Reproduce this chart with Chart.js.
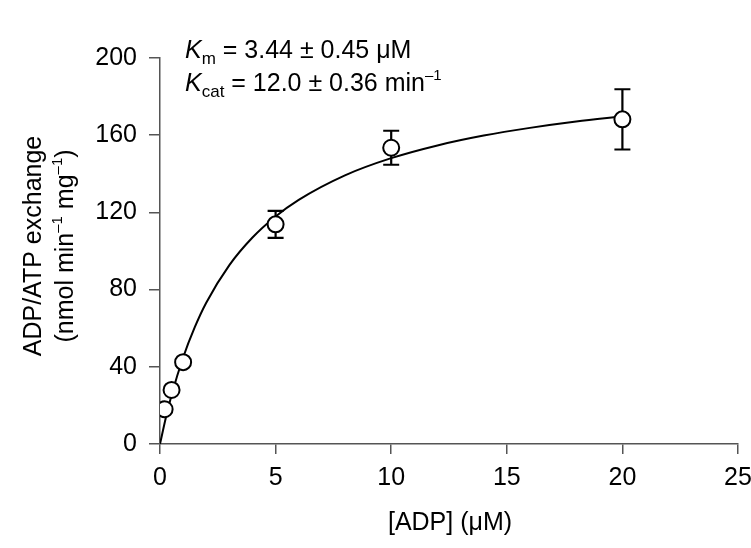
<!DOCTYPE html>
<html>
<head>
<meta charset="utf-8">
<script src="https://cdn.jsdelivr.net/npm/chart.js@4.4.1/dist/chart.umd.min.js"></script>
<style>
  html, body { margin: 0; padding: 0; background: #fff; }
  #wrap { width: 751px; height: 548px; position: relative; }
</style>
</head>
<body>
<div id="wrap"><canvas id="c" width="751" height="548"></canvas></div>
<script>
const adpConc = [0.2, 0.5, 1, 5, 10, 20];
const exchangeRate = [18, 28, 42.4, 113.8, 153.5, 168.2];
const errorSEM = [0, 0, 0, 7, 8.8, 15.6];

const fitX = [0, 0.25, 0.5, 1, 1.5, 2, 3, 4, 5, 6, 8, 10, 12, 14, 16, 18, 20];
const fitY = [0, 13.5, 25.3, 44.8, 60.4, 73.2, 92.7, 107.0, 117.9, 126.5, 139.2, 148.1, 154.7, 159.8, 163.8, 167.1, 169.8];

// Axis ticks
const xTicks = [0, 5, 10, 15, 20, 25];
const yTicks = [0, 40, 80, 120, 160, 200];

const FONT = "'Liberation Sans', Arial, Helvetica, sans-serif";
const AXIS_COLOR = '#555';
const FS = 25;

function drawRich(ctx, segs, x, y, align) {
  let total = 0;
  segs.forEach(s => {
    ctx.font = (s.italic ? 'italic ' : '') + s.size + 'px ' + FONT;
    s.w = ctx.measureText(s.t).width;
    total += s.w;
  });
  let cx = align === 'center' ? x - total / 2 : x;
  segs.forEach(s => {
    ctx.font = (s.italic ? 'italic ' : '') + s.size + 'px ' + FONT;
    ctx.fillText(s.t, cx, y + (s.dy || 0));
    cx += s.w;
  });
}

const textPlugin = {
  id: 'texts',
  afterDraw(chart) {
    const ctx = chart.ctx;
    ctx.save();
    ctx.fillStyle = '#000';
    ctx.textBaseline = 'alphabetic';
    ctx.textAlign = 'left';
    // Annotation
    drawRich(ctx, [
      {t: 'K', size: FS, italic: true},
      {t: 'm', size: 17, dy: 6},
      {t: ' = 3.44 \u00B1 0.45 \u03BCM', size: FS}
    ], 185, 58, 'left');
    drawRich(ctx, [
      {t: 'K', size: FS, italic: true},
      {t: 'cat', size: 17, dy: 6},
      {t: ' = 12.0 \u00B1 0.36 min', size: FS},
      {t: '\u20131', size: 15, dy: -11}
    ], 185, 91, 'left');
    // Y axis title (rotated)
    ctx.save();
    ctx.translate(41, 246);
    ctx.rotate(-Math.PI / 2);
    drawRich(ctx, [{t: 'ADP/ATP exchange', size: FS}], 0, 0, 'center');
    drawRich(ctx, [
      {t: '(nmol min', size: FS},
      {t: '\u20131', size: 15, dy: -11},
      {t: ' mg', size: FS},
      {t: '\u20131', size: 15, dy: -11},
      {t: ')', size: FS}
    ], 0, 32, 'center');
    ctx.restore();
    // X axis title
    drawRich(ctx, [{t: '[ADP] (\u03BCM)', size: FS}], 450, 530, 'center');
    ctx.restore();
  }
};

const errorBarPlugin = {
  id: 'errorBars',
  beforeDatasetDraw(chart, args) {
    if (args.index !== 0) return;
    const ctx = chart.ctx;
    const xs = chart.scales.x, ys = chart.scales.y;
    ctx.save();
    ctx.strokeStyle = '#000';
    ctx.lineWidth = 2.2;
    for (let i = 0; i < adpConc.length; i++) {
      if (!errorSEM[i]) continue;
      const px = xs.getPixelForValue(adpConc[i]);
      const top = ys.getPixelForValue(exchangeRate[i] + errorSEM[i]);
      const bot = ys.getPixelForValue(exchangeRate[i] - errorSEM[i]);
      ctx.beginPath();
      ctx.moveTo(px, top); ctx.lineTo(px, bot);
      ctx.moveTo(px - 8, top); ctx.lineTo(px + 8, top);
      ctx.moveTo(px - 8, bot); ctx.lineTo(px + 8, bot);
      ctx.stroke();
    }
    ctx.restore();
  }
};

new Chart(document.getElementById('c'), {
  type: 'scatter',
  data: {
    datasets: [
      {
        label: 'Measured',
        data: adpConc.map((x, i) => ({x, y: exchangeRate[i]})),
        pointRadius: 8,
        pointBorderWidth: 2,
        pointBackgroundColor: '#fff',
        pointBorderColor: '#000',
        showLine: false,
        order: 0
      },
      {
        label: 'Fit',
        data: fitX.map((x, i) => ({x, y: fitY[i]})),
        showLine: true,
        pointRadius: 0,
        borderColor: '#000',
        borderWidth: 2,
        cubicInterpolationMode: 'monotone',
        fill: false,
        order: 1
      }
    ]
  },
  options: {
    responsive: false,
    animation: false,
    devicePixelRatio: 1,
    layout: { padding: { top: 58, right: 0, left: 0, bottom: 0 } },
    plugins: { legend: { display: false }, tooltip: { enabled: false } },
    scales: {
      x: {
        type: 'linear', min: 0, max: 25,
        afterBuildTicks(s) { s.ticks = xTicks.map(v => ({value: v})); },
        afterFit(s) { s.height = 104; s.paddingRight = 13; },
        grid: { drawOnChartArea: false, drawTicks: true, tickLength: 10, color: AXIS_COLOR, lineWidth: 1.5 },
        border: { display: true, color: AXIS_COLOR, width: 1.5 },
        ticks: { color: '#000', font: { family: FONT, size: FS }, padding: 9, maxRotation: 0 }
      },
      y: {
        type: 'linear', min: 0, max: 200,
        afterBuildTicks(s) { s.ticks = yTicks.map(v => ({value: v})); },
        afterFit(s) { s.width = 160; },
        grid: { drawOnChartArea: false, drawTicks: true, tickLength: 11, color: AXIS_COLOR, lineWidth: 1.5 },
        border: { display: true, color: AXIS_COLOR, width: 1.5 },
        ticks: { color: '#000', font: { family: FONT, size: FS }, padding: 12 }
      }
    }
  },
  plugins: [errorBarPlugin, textPlugin]
});
</script>
</body>
</html>
